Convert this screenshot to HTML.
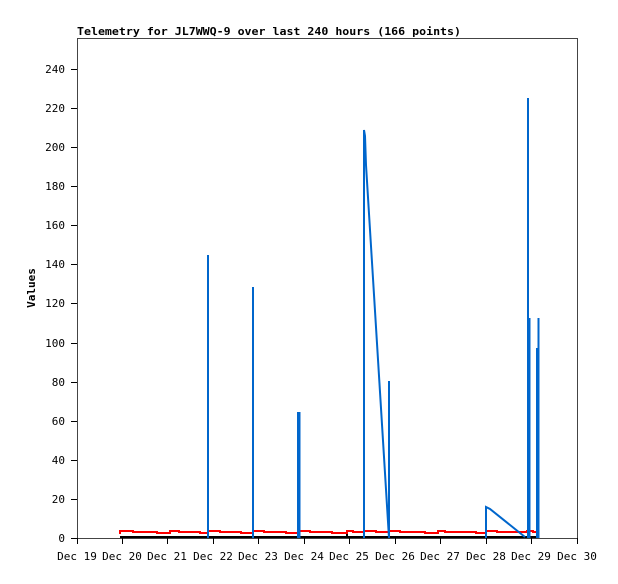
<!DOCTYPE html>
<html><head><meta charset="utf-8"><style>
body{margin:0;background:#fff;}
text{font-family:"DejaVu Sans Mono","Liberation Mono",monospace;font-size:11px;}
</style></head><body>
<svg width="618" height="579" xmlns="http://www.w3.org/2000/svg">
<rect width="618" height="579" fill="#fff"/>
<text x="77" y="35" font-weight="bold" font-size="11" textLength="384" lengthAdjust="spacingAndGlyphs">Telemetry for JL7WWQ-9 over last 240 hours (166 points)</text>
<rect x="77.5" y="38.5" width="500" height="500" fill="none" stroke="#444" stroke-width="1"/>
<g stroke="#000" stroke-width="1">
<line x1="71" y1="538.5" x2="77" y2="538.5"/><line x1="71" y1="499.5" x2="77" y2="499.5"/>
<line x1="71" y1="460.5" x2="77" y2="460.5"/><line x1="71" y1="421.5" x2="77" y2="421.5"/>
<line x1="71" y1="382.5" x2="77" y2="382.5"/><line x1="71" y1="343.5" x2="77" y2="343.5"/>
<line x1="71" y1="303.5" x2="77" y2="303.5"/><line x1="71" y1="264.5" x2="77" y2="264.5"/>
<line x1="71" y1="225.5" x2="77" y2="225.5"/><line x1="71" y1="186.5" x2="77" y2="186.5"/>
<line x1="71" y1="147.5" x2="77" y2="147.5"/><line x1="71" y1="108.5" x2="77" y2="108.5"/>
<line x1="71" y1="69.5" x2="77" y2="69.5"/>
<line x1="77.5" y1="538" x2="77.5" y2="544"/><line x1="122.5" y1="538" x2="122.5" y2="544"/>
<line x1="167.5" y1="538" x2="167.5" y2="544"/><line x1="213.5" y1="538" x2="213.5" y2="544"/>
<line x1="258.5" y1="538" x2="258.5" y2="544"/><line x1="304.5" y1="538" x2="304.5" y2="544"/>
<line x1="349.5" y1="538" x2="349.5" y2="544"/><line x1="395.5" y1="538" x2="395.5" y2="544"/>
<line x1="440.5" y1="538" x2="440.5" y2="544"/><line x1="486.5" y1="538" x2="486.5" y2="544"/>
<line x1="531.5" y1="538" x2="531.5" y2="544"/><line x1="577.5" y1="538" x2="577.5" y2="544"/>
</g>
<g text-anchor="end">
<text x="65" y="542">0</text><text x="65" y="503">20</text><text x="65" y="464">40</text>
<text x="65" y="425">60</text><text x="65" y="386">80</text><text x="65" y="347">100</text>
<text x="65" y="307">120</text><text x="65" y="268">140</text><text x="65" y="229">160</text>
<text x="65" y="190">180</text><text x="65" y="151">200</text><text x="65" y="112">220</text>
<text x="65" y="73">240</text>
</g>
<g text-anchor="middle">
<text x="77" y="560">Dec 19</text><text x="122" y="560">Dec 20</text><text x="167" y="560">Dec 21</text>
<text x="213" y="560">Dec 22</text><text x="258" y="560">Dec 23</text><text x="304" y="560">Dec 24</text>
<text x="349" y="560">Dec 25</text><text x="395" y="560">Dec 26</text><text x="440" y="560">Dec 27</text>
<text x="486" y="560">Dec 28</text><text x="531" y="560">Dec 29</text><text x="577" y="560">Dec 30</text>
</g>
<text x="35" y="288" transform="rotate(-90 35 288)" text-anchor="middle" font-weight="bold">Values</text>
<polyline fill="none" stroke="#000" stroke-width="2" points="120,537 538,537"/>
<g stroke="#000" stroke-width="2"><line x1="253" y1="531" x2="253" y2="537"/><line x1="347" y1="530" x2="347" y2="537"/><line x1="389" y1="530" x2="389" y2="537"/></g>
<polyline fill="none" stroke="#f00" stroke-width="2" points="120,534 120,531 133,531 133,532 157,532 157,533 170,533 170,531 179,531 179,532 200,532 200,533 208,533 208,531 220,531 220,532 241,532 241,533 253,533 253,531 264,531 264,532 286,532 286,533 299,533 299,531 310,531 310,532 332,532 332,533 347,533 347,531 353,531 353,532 364,532 364,531 376,531 376,532 389,532 389,531 400,531 400,532 425,532 425,533 438,533 438,531 445,531 445,532 476,532 476,533 486,533 486,531 497,531 497,532 527,532 527,531 533,531 533,532 538,532"/>
<g stroke="#06c" stroke-width="2" fill="none">
<line x1="208" y1="538" x2="208" y2="255"/>
<line x1="253" y1="538" x2="253" y2="287"/>
<line x1="298" y1="538" x2="298" y2="412"/><line x1="299.5" y1="538" x2="299.5" y2="412"/>
<polyline points="364,538 364,130 365,136 366,165 389,538"/>
<line x1="389" y1="538" x2="389" y2="381"/>
<polyline points="486,538 486,507 490,509 525,537"/>
<line x1="528" y1="538" x2="528" y2="98"/>
<line x1="529.5" y1="538" x2="529.5" y2="318"/>
<line x1="537" y1="538" x2="537" y2="348"/>
<line x1="538.5" y1="538" x2="538.5" y2="318"/>
</g>
</svg>
</body></html>
